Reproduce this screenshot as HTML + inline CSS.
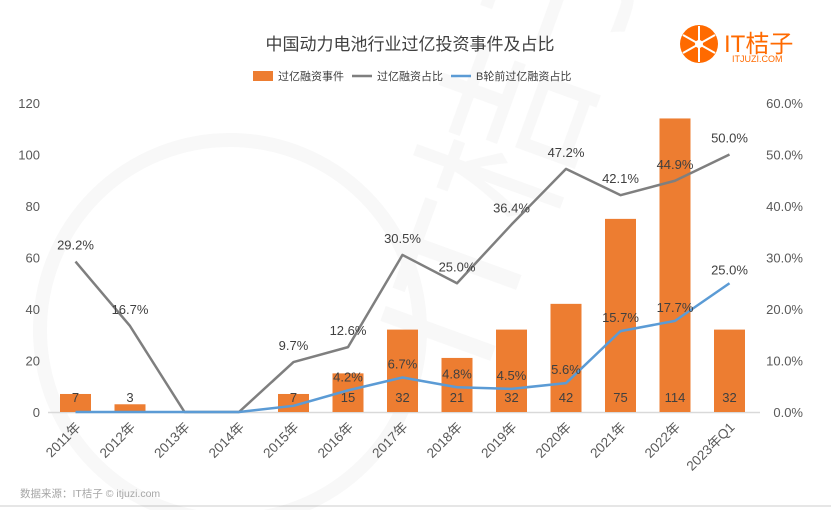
<!DOCTYPE html>
<html><head><meta charset="utf-8"><style>
body{margin:0;background:#fff;}
svg text{font-family:"Liberation Sans","Noto Sans CJK SC",sans-serif;}
</style></head><body>
<svg id="c" width="831" height="510" xmlns="http://www.w3.org/2000/svg">
<rect width="831" height="510" fill="#fff"/>
<line x1="0" y1="506" x2="831" y2="506" stroke="#e6e6e6" stroke-width="2"/>
<g opacity="0.03">
<circle cx="230" cy="330" r="190" fill="none" stroke="#000" stroke-width="14"/>
<text x="390" y="260" font-size="170" fill="#000" transform="rotate(-70 520 250)">IT桔子</text>
</g>
<text x="410" y="50" text-anchor="middle" font-size="17" fill="#404040">中国动力电池行业过亿投资事件及占比</text>
<g>
<circle cx="699" cy="44" r="19" fill="#ff6a00"/>
<g stroke="#fff" stroke-width="2"><line x1="699" y1="26" x2="699" y2="62"/><line x1="683" y1="35" x2="715" y2="53"/><line x1="683" y1="53" x2="715" y2="35"/></g>
<circle cx="699" cy="44" r="4" fill="#fff"/>
<text x="724" y="52" font-size="24" fill="#ff6a00">IT桔子</text>
<text x="732" y="62" font-size="9" fill="#ff6a00">ITJUZI.COM</text>
</g>
<g font-size="11" fill="#404040">
<rect x="253" y="71" width="20" height="10" fill="#ed7d31"/><text x="278" y="80">过亿融资事件</text>
<line x1="352" y1="76" x2="372" y2="76" stroke="#7f7f7f" stroke-width="2.5"/><text x="377" y="80">过亿融资占比</text>
<line x1="451" y1="76" x2="471" y2="76" stroke="#5b9bd5" stroke-width="2.5"/><text x="476" y="80">B轮前过亿融资占比</text>
</g>
<g id="g"></g>
<text x="20" y="497" font-size="10.5" fill="#a6a6a6">数据来源：IT桔子 © itjuzi.com</text>
</svg>
<script>
const categories=["2011年","2012年","2013年","2014年","2015年","2016年","2017年","2018年","2019年","2020年","2021年","2022年","2023年Q1"];
const counts=[7,3,0,0,7,15,32,21,32,42,75,114,32];
const ratio=[29.2,16.7,0,0,9.7,12.6,30.5,25.0,36.4,47.2,42.1,44.9,50.0];
const bRatio=[0,0,0,0,1.2,4.2,6.7,4.8,4.5,5.6,15.7,17.7,25.0];
const showBLabel=[false,false,false,false,false,true,true,true,true,true,true,true,true];
const leftTicks=[0,20,40,60,80,100,120];
const rightTicks=[0,10,20,30,40,50,60];
const NS="http://www.w3.org/2000/svg";
const g=document.getElementById('g');
const x=i=>75.5+i*54.5;
const yL=v=>412-v*309/120;
const yR=v=>412-v*309/60;
function el(t,a,p){const e=document.createElementNS(NS,t);for(const k in a)e.setAttribute(k,a[k]);(p||g).appendChild(e);return e;}
const ax=el('line',{x1:48,y1:412.5,x2:760,y2:412.5,stroke:'#d9d9d9','stroke-width':1.5});


leftTicks.forEach(v=>{const t=el('text',{x:40,y:yL(v)+5,'text-anchor':'end','font-size':13,fill:'#595959'});t.textContent=v;

});
rightTicks.forEach(v=>{const t=el('text',{x:803,y:yR(v)+5,'text-anchor':'end','font-size':13,fill:'#595959'});t.textContent=v.toFixed(1)+'%';

});
categories.forEach((c,i)=>{const t=el('text',{x:x(i)+6,y:428,'text-anchor':'end','font-size':13.5,fill:'#595959',transform:`rotate(-45 ${x(i)+6} 428)`});t.textContent=c;

});
counts.forEach((v,i)=>{if(v<=0)return;const r=el('rect',{x:x(i)-15.5,y:yL(v),width:31,height:412-yL(v),fill:'#ed7d31'});

});
function line(arr,f,col,name){const p=el('polyline',{points:arr.map((v,i)=>x(i)+','+f(v)).join(' '),fill:'none',stroke:col,'stroke-width':2.5,'stroke-linejoin':'round'});

}
line(ratio,yR,'#7f7f7f','ratio-line');
line(bRatio,yR,'#5b9bd5','b-ratio-line');
counts.forEach((v,i)=>{if(v<=0)return;const t=el('text',{x:x(i),y:402,'text-anchor':'middle','font-size':13,fill:'#404040'});t.textContent=v;

});
ratio.forEach((v,i)=>{if(v<=0)return;const t=el('text',{x:x(i),y:yR(v)-12,'text-anchor':'middle','font-size':13,fill:'#404040'});t.textContent=v.toFixed(1)+'%';

});
bRatio.forEach((v,i)=>{if(!showBLabel[i])return;const t=el('text',{x:x(i),y:yR(v)-9,'text-anchor':'middle','font-size':13,fill:'#404040'});t.textContent=v.toFixed(1)+'%';

});
</script>
</body></html>
